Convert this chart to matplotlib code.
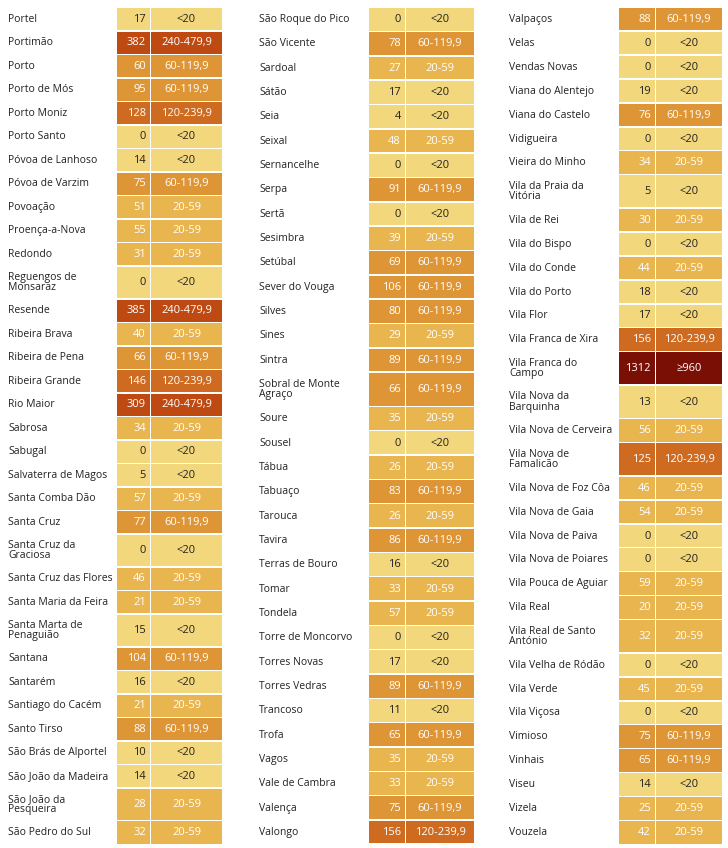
import matplotlib
matplotlib.use("Agg")
import matplotlib.pyplot as plt
from matplotlib.patches import Rectangle

col1_names = ["Portel","Portimão","Porto","Porto de Mós","Porto Moniz","Porto Santo","Póvoa de Lanhoso","Póvoa de Varzim","Povoação","Proença-a-Nova","Redondo","Reguengos de\nMonsaraz","Resende","Ribeira Brava","Ribeira de Pena","Ribeira Grande","Rio Maior","Sabrosa","Sabugal","Salvaterra de Magos","Santa Comba Dão","Santa Cruz","Santa Cruz da\nGraciosa","Santa Cruz das Flores","Santa Maria da Feira","Santa Marta de\nPenaguião","Santana","Santarém","Santiago do Cacém","Santo Tirso","São Brás de Alportel","São João da Madeira","São João da\nPesqueira","São Pedro do Sul"]
col1_vals = [17,382,60,95,128,0,14,75,51,55,31,0,385,40,66,146,309,34,0,5,57,77,0,46,21,15,104,16,21,88,10,14,28,32]

col2_names = ["São Roque do Pico","São Vicente","Sardoal","Sátão","Seia","Seixal","Sernancelhe","Serpa","Sertã","Sesimbra","Setúbal","Sever do Vouga","Silves","Sines","Sintra","Sobral de Monte\nAgraço","Soure","Sousel","Tábua","Tabuaço","Tarouca","Tavira","Terras de Bouro","Tomar","Tondela","Torre de Moncorvo","Torres Novas","Torres Vedras","Trancoso","Trofa","Vagos","Vale de Cambra","Valença","Valongo"]
col2_vals = [0,78,27,17,4,48,0,91,0,39,69,106,80,29,89,66,35,0,26,83,26,86,16,33,57,0,17,89,11,65,35,33,75,156]

col3_names = ["Valpaços","Velas","Vendas Novas","Viana do Alentejo","Viana do Castelo","Vidigueira","Vieira do Minho","Vila da Praia da\nVitória","Vila de Rei","Vila do Bispo","Vila do Conde","Vila do Porto","Vila Flor","Vila Franca de Xira","Vila Franca do\nCampo","Vila Nova da\nBarquinha","Vila Nova de Cerveira","Vila Nova de\nFamalicão","Vila Nova de Foz Côa","Vila Nova de Gaia","Vila Nova de Paiva","Vila Nova de Poiares","Vila Pouca de Aguiar","Vila Real","Vila Real de Santo\nAntónio","Vila Velha de Ródão","Vila Verde","Vila Viçosa","Vimioso","Vinhais","Viseu","Vizela","Vouzela"]
col3_vals = [88,0,0,19,76,0,34,5,30,0,44,18,17,156,1312,13,56,125,46,54,0,0,59,20,32,0,45,0,75,65,14,25,42]

cat_labels = ["<20","20-59","60-119,9","120-239,9","240-479,9","≥960"]
cat_colors = ["#F3D77C","#E9B54F","#DE9535","#CF6B20","#BE4A12","#7A0F05"]

def cat_index(v):
    if v < 20: return 0
    if v < 60: return 1
    if v < 120: return 2
    if v < 240: return 3
    if v < 480: return 4
    return 5

fig = plt.figure(figsize=(7.28, 8.48), dpi=100)
ax = fig.add_axes([0, 0, 1, 1])
ax.set_xlim(0, 728); ax.set_ylim(848, 0); ax.axis("off")
font = "Open Sans"

columns = [(col1_names, col1_vals, 8, 117, 151, 222),
           (col2_names, col2_vals, 259, 369, 406, 474),
           (col3_names, col3_vals, 509, 619, 656, 722)]
top, bottom = 8, 845
for names, vals, xn, xv, xc, xe in columns:
    weights = [1.4 if "\n" in n else 1.0 for n in names]
    unit = (bottom - top) / sum(weights)
    y = top
    for n, v, w in zip(names, vals, weights):
        h = w * unit
        ci = cat_index(v)
        col = cat_colors[ci]
        tc = "#222222" if ci == 0 else "white"
        ax.add_patch(Rectangle((xv, y), xc - xv - 1.5, h - 1.5, color=col, lw=0))
        ax.add_patch(Rectangle((xc, y), xe - xc, h - 1.5, color=col, lw=0))
        cy = y + h / 2 - 0.5
        ax.text(xn, cy, n, va="center", ha="left", fontsize=7.5, family=font,
                color="#222222", linespacing=0.95)
        ax.text(xc - 5, cy, str(v), va="center", ha="right", fontsize=8, family=font, color=tc)
        ax.text((xc + xe) / 2, cy, cat_labels[ci], va="center", ha="center", fontsize=8, family=font, color=tc)
        y += h

fig.savefig("out.png", dpi=100)
